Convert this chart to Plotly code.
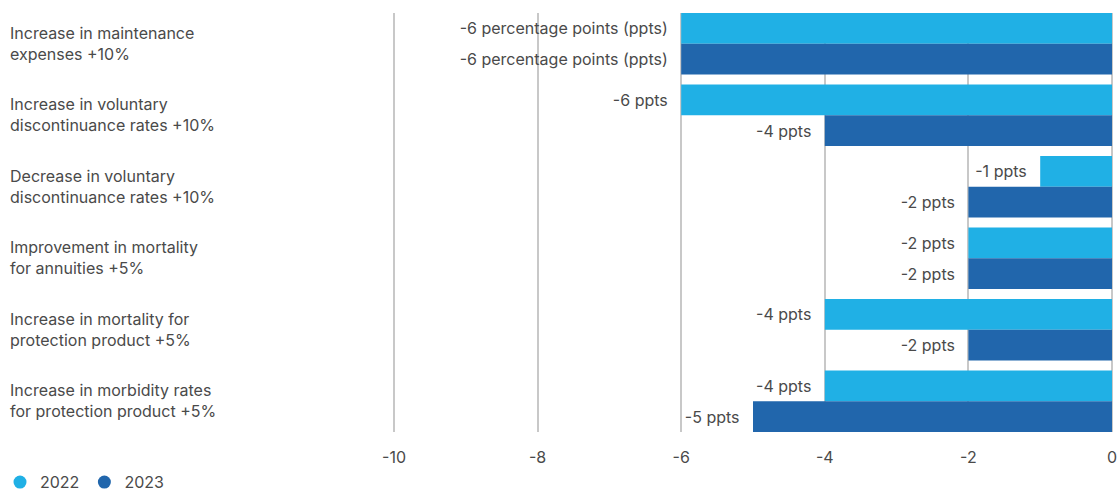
import plotly.graph_objects as go

categories = [
    "Increase in maintenance<br>expenses +10%",
    "Increase in voluntary<br>discontinuance rates +10%",
    "Decrease in voluntary<br>discontinuance rates +10%",
    "Improvement in mortality<br>for annuities +5%",
    "Increase in mortality for<br>protection product +5%",
    "Increase in morbidity rates<br>for protection product +5%",
]
values_2022 = [-6, -6, -1, -2, -4, -4]
values_2023 = [-6, -4, -2, -2, -2, -5]
labels_2022 = ["-6 percentage points (ppts)", "-6 ppts", "-1 ppts", "-2 ppts", "-4 ppts", "-4 ppts"]
labels_2023 = ["-6 percentage points (ppts)", "-4 ppts", "-2 ppts", "-2 ppts", "-2 ppts", "-5 ppts"]
tick_vals = [-10, -8, -6, -4, -2, 0]
tick_text = ["-10", "-8", "-6", "-4", "-2", "0"]
series_names = ["2022", "2023"]

C_LIGHT = "#20b0e5"
C_DARK = "#2166ac"
FONT = "Inter, Roboto, sans-serif"
TEXT_C = "#4a4a4a"
PAD = "\u00a0\u00a0\u200a"
PX_PER_UNIT = 71.8
BARGAP = 0.14

fig = go.Figure()
for name, vals, labs, col in [
    (series_names[0], values_2022, labels_2022, C_LIGHT),
    (series_names[1], values_2023, labels_2023, C_DARK),
]:
    fig.add_trace(go.Bar(
        y=categories, x=vals, orientation="h", name=name,
        marker=dict(color=col, line=dict(width=0)),
        text=[l + PAD for l in labs], textposition="outside",
        textfont=dict(family=FONT, size=16, color=TEXT_C),
        constraintext="none", cliponaxis=False, showlegend=False,
        hoverinfo="skip",
    ))
    fig.add_trace(go.Scatter(
        x=[None], y=[None], mode="markers", name=name,
        marker=dict(color=col, size=13, symbol="circle"),
        showlegend=True,
    ))

n = len(categories)
edge = BARGAP / 2
fig.update_layout(
    width=1117, height=492,
    margin=dict(l=0, r=3, t=13, b=60, autoexpand=False),
    paper_bgcolor="white", plot_bgcolor="white",
    barmode="group", bargap=BARGAP, bargroupgap=0,
    font=dict(family=FONT, size=16, color=TEXT_C),
    showlegend=True,
    legend=dict(orientation="h", x=0.0, xanchor="left",
                yref="container", y=0.02, yanchor="middle",
                font=dict(family=FONT, size=16, color=TEXT_C),
                itemwidth=30, tracegroupgap=0, bgcolor="rgba(0,0,0,0)"),
    xaxis=dict(
        range=[-1112 / PX_PER_UNIT, 2 / PX_PER_UNIT], tickvals=tick_vals, ticktext=tick_text,
        showgrid=True, gridcolor="#c8c8c8", gridwidth=1.5, zeroline=False,
        showline=False, ticks="", ticklabelstandoff=14, ticklabeloverflow="allow",
        tickfont=dict(family=FONT, size=16, color=TEXT_C), layer="below traces",
    ),
    yaxis=dict(
        categoryorder="array", categoryarray=categories,
        range=[n - 0.5 - edge, -0.5 + edge],
        showgrid=False, zeroline=False, showline=False,
        ticks="", ticklabelposition="inside", ticklabelstandoff=7,
        tickfont=dict(family=FONT, size=16, color=TEXT_C),
    ),
)

fig.write_html("out.html")
